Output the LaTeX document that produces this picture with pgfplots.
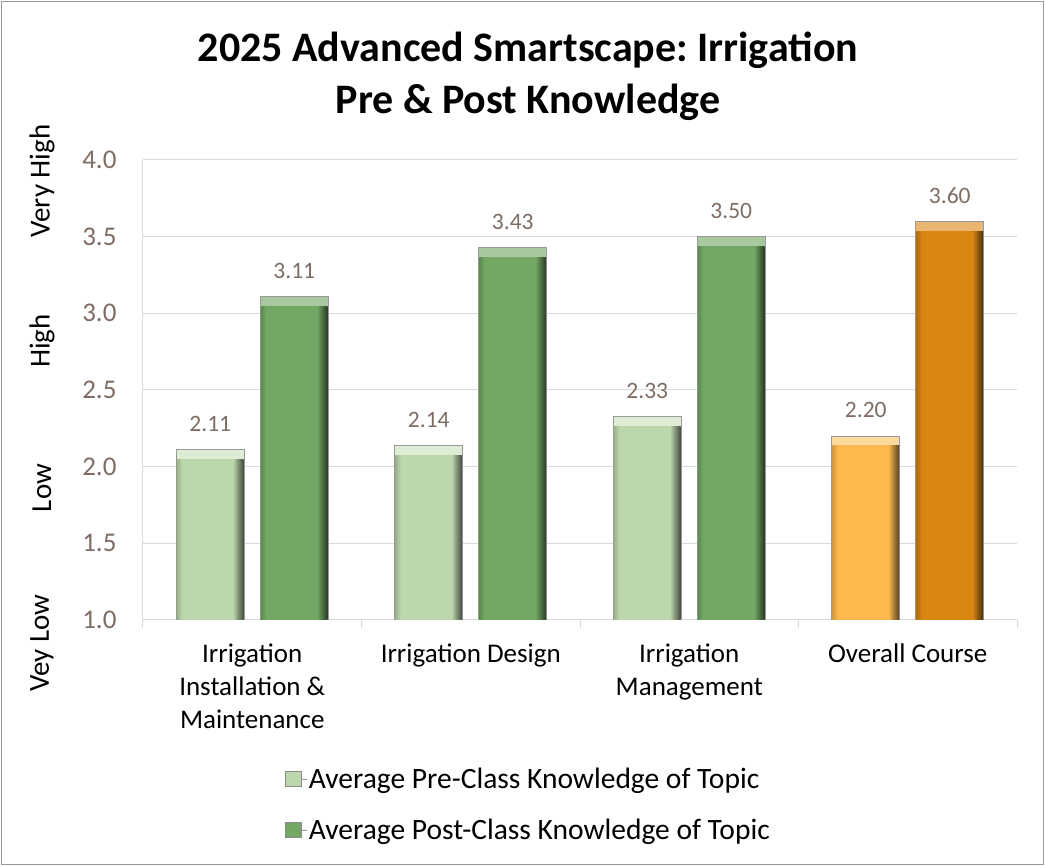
\documentclass[border=0pt]{standalone}
\usepackage{fontspec}
\setmainfont{Carlito}
\usepackage{pgfplots}
\pgfplotsset{compat=1.18}
\frenchspacing
\definecolor{preG}{RGB}{189,215,172}
\definecolor{postG}{RGB}{114,168,100}
\definecolor{preO}{RGB}{253,185,78}
\definecolor{postO}{RGB}{216,133,18}
\definecolor{tickc}{RGB}{127,108,98}
\definecolor{gridc}{RGB}{217,217,217}
\newcommand\mkbev[1]{\pgfdeclarehorizontalshading{bev#1}{100bp}{color(0bp)=(#1!82!black); color(25bp)=(#1!82!black); color(29bp)=(#1); color(67bp)=(#1); color(70bp)=(#1!75!black); color(75bp)=(#1!35!black); color(100bp)=(#1!35!black)}}
\mkbev{preG}\mkbev{postG}\mkbev{preO}\mkbev{postO}
\pgfplotsset{
  strip/.style={fill=#1, draw=black!40, line width=0.6pt, bar width=68pt, nodes near coords},
  body/.style={shading=bev#1, draw=none, bar width=66.8pt, yshift=-10pt, forget plot},
}
\begin{document}
\begin{tikzpicture}[x=1pt,y=1pt]
\useasboundingbox (-143,-246) rectangle (902,620);
\draw[black!40, line width=1.5pt] (-141.5,-244.5) rectangle (900.5,618.5);
\begin{axis}[
  at={(0,0)}, anchor=south west,
  scale only axis, width=874pt, height=460pt,
  xmin=-0.5, xmax=3.5, ymin=1, ymax=4,
  ytick={1,1.5,2,2.5,3,3.5,4},
  ymajorgrids, grid style={gridc, line width=1pt},
  axis x line*=bottom, axis y line*=left,
  axis line style={gridc, line width=1pt},
  major tick length=0pt,
  extra x ticks={-0.5,0.5,1.5,2.5,3.5}, extra x tick labels={},
  extra x tick style={major tick length=8pt, tick style={gridc, line width=1pt}, tick align=outside},
  /pgf/number format/assume math mode=true,
  yticklabel style={tickc, font=\fontsize{27}{30}\selectfont, xshift=-23pt,
    /pgf/number format/.cd, fixed, fixed zerofill, precision=1},
  xtick={0,1,2,3},
  xticklabels={{Irrigation\\Installation \&\\Maintenance}, Irrigation Design, {Irrigation\\Management}, Overall Course},
  xticklabel style={align=center, font=\fontsize{27}{33}\selectfont, anchor=north, yshift=-20pt},
  ybar,
  every node near coord/.append style={tickc, font=\fontsize{23.5}{27}\selectfont, anchor=base, yshift=18pt,
    /pgf/number format/.cd, fixed, fixed zerofill, precision=2},
  legend style={at={(0.1625,-0.401)}, anchor=west, draw=none, fill=none, inner sep=0pt,
    font=\fontsize{29.5}{33}\selectfont, row sep=25pt, legend cell align=left,
    nodes={inner sep=2pt, text=black}},
]
% top strips (full bar height) with value labels
\addplot[strip=preG!50!white, bar shift=-42pt,
  legend image code/.code={\draw[fill=preG, draw=black!45] (0pt,-7pt) rectangle (16pt,8pt); \path (16pt,0pt) -- (21pt,0pt);}]
  coordinates {(0,2.11) (1,2.14) (2,2.33)};
\addplot[strip=postG!62!white, bar shift=42pt,
  legend image code/.code={\draw[fill=postG, draw=black!45] (0pt,-7pt) rectangle (16pt,8pt); \path (16pt,0pt) -- (21pt,0pt);}]
  coordinates {(0,3.11) (1,3.43) (2,3.50)};
\addplot[strip=preO!55!white, bar shift=-42pt, forget plot] coordinates {(3,2.20)};
\addplot[strip=postO!60!white, bar shift=42pt, forget plot] coordinates {(3,3.60)};
% bevelled bar bodies
\addplot[body=preG, bar shift=-42pt] coordinates {(0,2.11)};
\addplot[body=preG, bar shift=-42pt] coordinates {(1,2.14)};
\addplot[body=preG, bar shift=-42pt] coordinates {(2,2.33)};
\addplot[body=postG, bar shift=42pt] coordinates {(0,3.11)};
\addplot[body=postG, bar shift=42pt] coordinates {(1,3.43)};
\addplot[body=postG, bar shift=42pt] coordinates {(2,3.50)};
\addplot[body=preO, bar shift=-42pt] coordinates {(3,2.20)};
\addplot[body=postO, bar shift=42pt] coordinates {(3,3.60)};
\legend{Average Pre-Class Knowledge of Topic, Average Post-Class Knowledge of Topic}
\end{axis}
\node[font=\bfseries\fontsize{42}{52}\selectfont, align=center] at (385,544) {2025 Advanced Smartscape: Irrigation\\Pre \& Post Knowledge};
\node[rotate=90, font=\fontsize{29}{32}\selectfont] at (-101,439) {Very High};
\node[rotate=90, font=\fontsize{29}{32}\selectfont] at (-101,279) {High};
\node[rotate=90, font=\fontsize{29}{32}\selectfont] at (-101,132) {Low};
\node[rotate=90, font=\fontsize{29}{32}\selectfont] at (-101,-23) {Vey Low};
\end{tikzpicture}
\end{document}
